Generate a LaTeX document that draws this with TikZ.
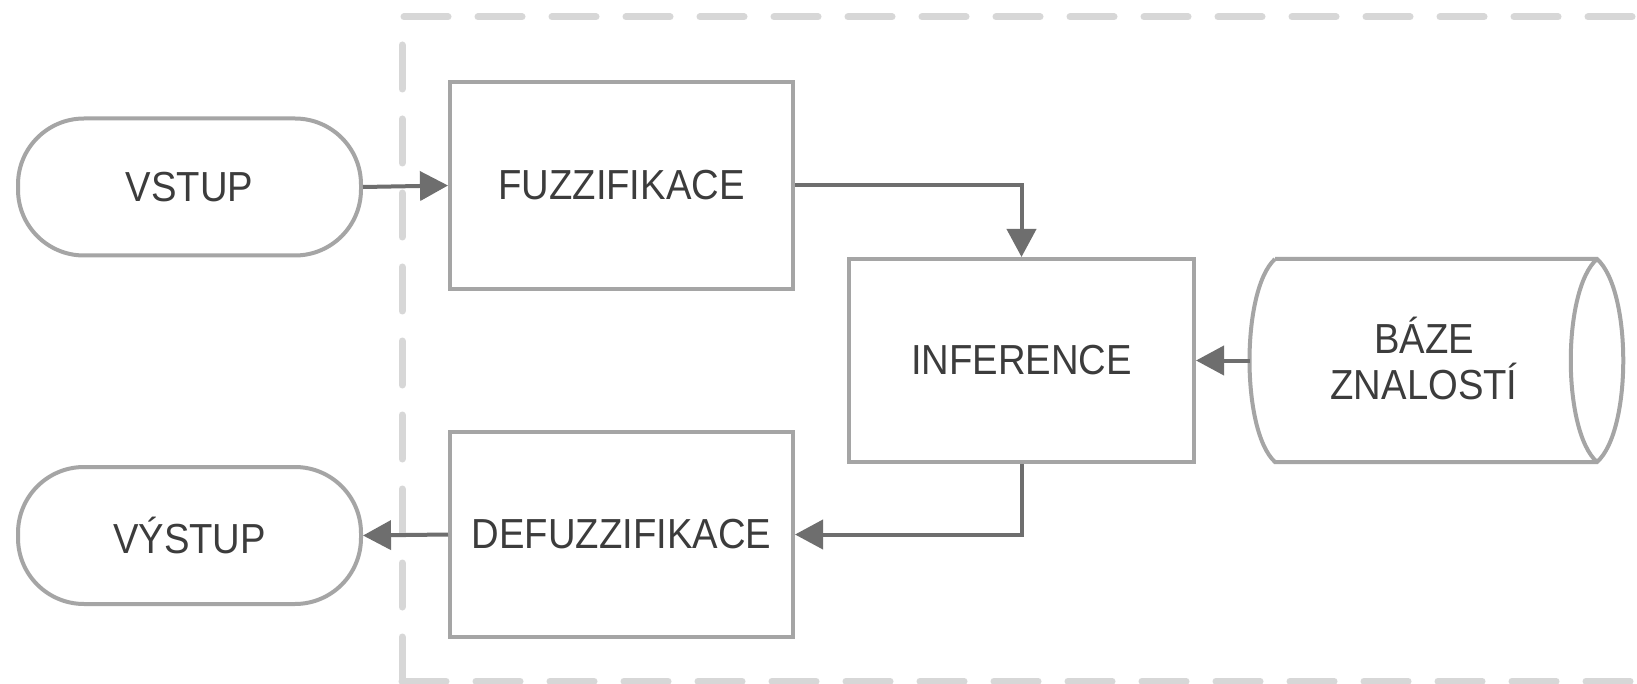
\documentclass[tikz,border=0pt]{standalone}
\usepackage{fontspec}
\setmainfont{Liberation Sans}[FakeStretch=0.91]
\usetikzlibrary{arrows.meta}
\definecolor{boxgray}{RGB}{165,165,165}
\definecolor{arrgray}{RGB}{110,110,110}
\definecolor{dashgray}{RGB}{215,215,215}
\definecolor{txtgray}{RGB}{60,60,60}
\tikzset{
  base/.style={draw=boxgray, line width=4pt, text=txtgray, font=\fontsize{42}{46}\selectfont, align=center, inner sep=0pt},
  procbox/.style={base, rectangle, minimum width=343pt},
  termbox/.style={base, rectangle, rounded corners=66pt, minimum width=343pt, minimum height=137pt},
  conn/.style={draw=arrgray, line width=4pt, -{Triangle[length=28pt,width=29pt]}},
}
\begin{document}
\begin{tikzpicture}[x=1pt,y=-1pt]
\useasboundingbox (0,0) rectangle (1637,684);
\clip (0,0) rectangle (1637,684);
\fill[white] (0,0) rectangle (1637,684);
% dashed frame
\draw[dashgray, line width=7pt, line cap=round, dash pattern=on 44pt off 30pt] (402,681) -- (402,17) -- (1700,17);
\draw[dashgray, line width=7pt, line cap=round, dash pattern=on 44pt off 30pt] (402,681) -- (1700,681);
% nodes
\node[termbox] (vstup) at (189.5,187) {VSTUP};
\node[procbox, minimum height=207pt] (fuzz) at (621.5,185.5) {FUZZIFIKACE};
\node[procbox, minimum width=345pt, minimum height=203pt] (inf) at (1021.5,360.5) {INFERENCE};
\node[procbox, minimum height=205pt] (defuzz) at (621.5,534.5) {DEFUZZIFIKACE};
\node[termbox] (vystup) at (189.5,535.5) {VÝSTUP};
% knowledge base (horizontal cylinder)
\draw[boxgray, line width=4pt]
  (1275,259) -- (1597,259)
  .. controls (1632,290) and (1632,431) .. (1597,462)
  -- (1275,462)
  .. controls (1241,431) and (1241,290) .. (1275,259);
\draw[boxgray, line width=4pt]
  (1597,259) .. controls (1562,290) and (1562,431) .. (1597,462);
\coordinate (bazew) at (1250,360.5);
\node[text=txtgray, font=\fontsize{42}{46}\selectfont, align=center] (baze) at (1424,358) {BÁZE\\ZNALOSTÍ};
% connectors
\draw[conn] (vstup.east) -- (fuzz.west);
\draw[conn] (fuzz.east) -| (inf.north);
\draw[conn] (bazew) -- (inf.east);
\draw[conn] (inf.south) |- (defuzz.east);
\draw[conn] (defuzz.west) -- (vystup.east);
\end{tikzpicture}
\end{document}
